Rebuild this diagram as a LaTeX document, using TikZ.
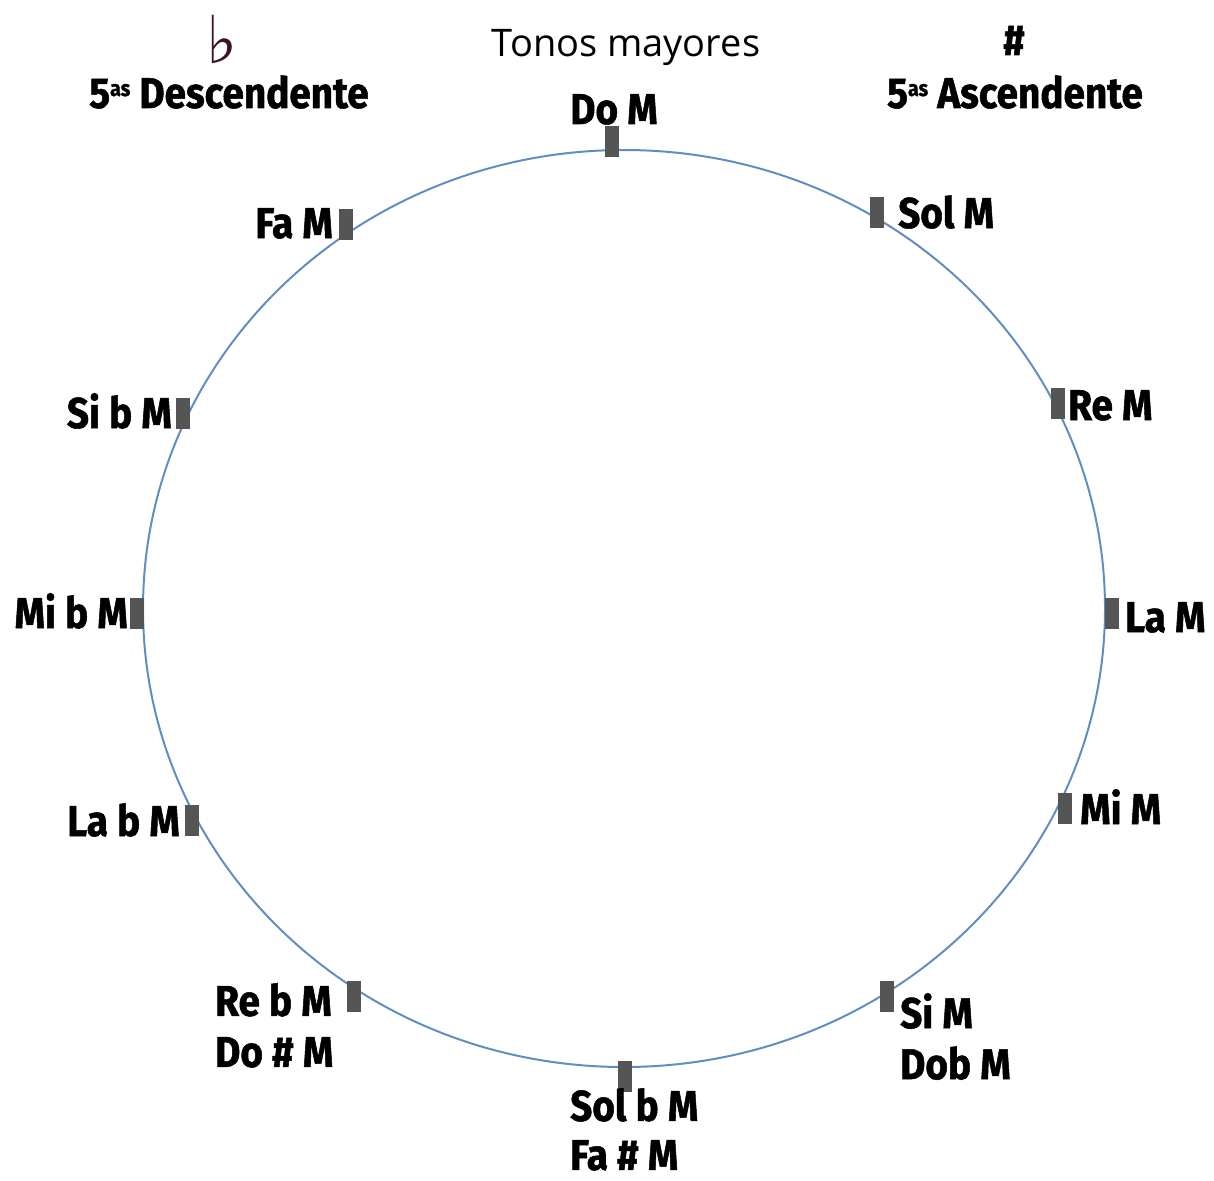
\documentclass[tikz,border=0pt]{standalone}
\usepackage{fontspec}
\setmainfont{Open Sans}
\newfontfamily\lblfont[FakeStretch=0.9,FakeBold=1.2]{Fira Sans}
\newfontfamily\symfont{DejaVu Sans}
\definecolor{circ}{RGB}{96,142,192}
\definecolor{tickc}{RGB}{85,85,85}
\definecolor{flatc}{RGB}{60,20,30}
\begin{document}
\begin{tikzpicture}[x=1pt,y=-1pt,
  lbl/.style={font=\lblfont\bfseries\fontsize{43}{51}\selectfont, inner sep=0pt, text=black},
  tick/.style={fill=tickc, minimum width=14pt, minimum height=31pt, inner sep=0pt, draw=none},
  ttl/.style={font=\fontsize{38}{44}\selectfont, inner sep=0pt, text=black}]
\useasboundingbox (0,0) rectangle (1214,1180);
\draw[circ, line width=2pt] (624,608.5) ellipse [x radius=481, y radius=458.5];
% ticks
\node[tick] (kDo) at (612,141) {};
\node[tick] (kSol) at (877,212) {};
\node[tick] (kRe) at (1058,403) {};
\node[tick] (kLa) at (1112,613) {};
\node[tick] (kMi) at (1065,808) {};
\node[tick] (kSi) at (887,996) {};
\node[tick] (kSolb) at (625,1076) {};
\node[tick] (kReb) at (354,996) {};
\node[tick] (kLab) at (192,820) {};
\node[tick] (kMib) at (137,613) {};
\node[tick] (kSib) at (183,413) {};
\node[tick] (kFa) at (346,224) {};
% headings
\node[ttl, anchor=base] (title) at (626,57) {Tonos mayores};
\node[inner sep=0pt, anchor=base, text=flatc, font=\symfont\fontsize{66}{66}\selectfont] (flat) at (222,64) {♭};
\node[lbl, anchor=base] (sharp) at (1014,55) {\#};
\node[lbl, anchor=base] (desc) at (229,108) {5{\fontsize{22}{22}\selectfont\raisebox{12pt}{as}} Descendente};
\node[lbl, anchor=base] (asc) at (1015,108) {5{\fontsize{22}{22}\selectfont\raisebox{12pt}{as}} Ascendente};
% labels
\node[lbl, anchor=base] (tDo) at (614,124) {Do M};
\node[lbl, anchor=base west] (tSol) at (898,228) {Sol M};
\node[lbl, anchor=base east] (tFa) at (333,238) {Fa M};
\node[lbl, anchor=base west] (tRe) at (1068,420) {Re M};
\node[lbl, anchor=base east] (tSib) at (172,428) {Si b M};
\node[lbl, anchor=base west] (tLa) at (1125,632) {La M};
\node[lbl, anchor=base east] (tMib) at (128,628) {Mi b M};
\node[lbl, anchor=base west] (tMi) at (1080,824) {Mi M};
\node[lbl, anchor=base east] (tLab) at (180,836) {La b M};
\node[lbl, anchor=north west, align=left] (tReb) at (215,983) {Re b M\\Do \# M};
\node[lbl, anchor=north west, align=left] (tSi) at (900,993) {Si M\\Dob M};
\node[lbl, anchor=north west, align=left, font=\lblfont\bfseries\fontsize{43}{49}\selectfont] (tSolb) at (570,1088) {Sol b M\\Fa \# M};
\end{tikzpicture}
\end{document}
